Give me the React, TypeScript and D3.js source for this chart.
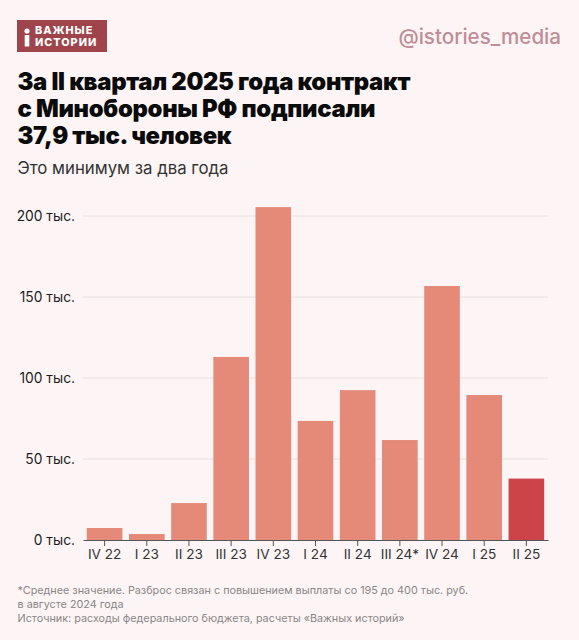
import { useRef, useEffect } from 'react';
import * as d3 from 'd3';

const QUARTERS = ['IV 22', 'I 23', 'II 23', 'III 23', 'IV 23', 'I 24', 'II 24', 'III 24*', 'IV 24', 'I 25', 'II 25'];
const SIGNED = [7.4, 3.7, 22.8, 113, 205.5, 73.5, 92.5, 61.7, 156.8, 89.5, 37.9];
const Y_TICKS = [0, 50, 100, 150, 200];
const LOGO_LINES = ['ВАЖНЫЕ', 'ИСТОРИИ'];
const TITLE_LINES = ['За II квартал 2025 года контракт', 'с Минобороны РФ подписали', '37,9 тыс. человек'];
const SUBTITLE = 'Это минимум за два года';
const NOTE_LINES = [
  '*Среднее значение. Разброс связан с повышением выплаты со 195 до 400 тыс. руб.',
  'в августе 2024 года',
  'Источник: расходы федерального бюджета, расчеты «Важных историй»',
];

const FONT = 'Inter, sans-serif';

export default function App() {
  const svgRef = useRef<SVGSVGElement>(null);

  useEffect(() => {
    if (!svgRef.current) return;
    document.body.style.margin = '0';

    const svg = d3.select(svgRef.current);
    svg.selectAll('*').remove();
    svg.attr('width', 579).attr('height', 640).style('display', 'block').style('font-family', FONT);

    svg.append('rect').attr('width', 579).attr('height', 640).attr('fill', '#fdf5f5');

    // Logo
    const logo = svg.append('g').attr('transform', 'translate(17,20)');
    logo.append('rect').attr('width', 90).attr('height', 32).attr('fill', '#a0444c');
    logo.append('circle').attr('cx', 10).attr('cy', 11).attr('r', 2.6).attr('fill', '#fff');
    logo.append('rect').attr('x', 7.7).attr('y', 15).attr('width', 4.6).attr('height', 11.5).attr('fill', '#fff');
    LOGO_LINES.forEach((t, i) => {
      logo.append('text')
        .attr('x', 18)
        .attr('y', 14 + i * 12)
        .attr('fill', '#fff')
        .attr('font-size', 10.8)
        .attr('font-weight', 800)
        .attr('letter-spacing', 1)
        .text(t);
    });

    svg.append('text')
      .attr('x', 561)
      .attr('y', 44)
      .attr('text-anchor', 'end')
      .attr('fill', '#c08d97')
      .attr('font-size', 20.6)
      .attr('font-weight', 500)
      .text('@istories_media');

    // Headings
    TITLE_LINES.forEach((t, i) => {
      svg.append('text')
        .attr('x', 17.5)
        .attr('y', 90 + i * 27)
        .attr('fill', '#0b0b0b')
        .attr('font-size', 23.8)
        .attr('font-weight', 900)
        .attr('letter-spacing', -0.3)
        .text(t);
    });
    svg.append('text')
      .attr('x', 17.5)
      .attr('y', 174)
      .attr('fill', '#333')
      .attr('font-size', 16.8)
      .text(SUBTITLE);

    const x = d3.scaleBand<string>().domain(QUARTERS).range([83, 548]).paddingInner(0.155).paddingOuter(0.09);
    const y = d3.scaleLinear().domain([0, 200]).range([540, 216]);

    // Grid
    svg.append('g')
      .selectAll('line')
      .data(Y_TICKS.filter((d) => d > 0))
      .join('line')
      .attr('x1', 83)
      .attr('x2', 548)
      .attr('y1', (d) => y(d))
      .attr('y2', (d) => y(d))
      .attr('stroke', '#e8dfdf');

    // Bars
    svg.append('g')
      .selectAll('rect')
      .data(SIGNED)
      .join('rect')
      .attr('x', (_d, i) => x(QUARTERS[i]) as number)
      .attr('y', (d) => y(d))
      .attr('width', x.bandwidth())
      .attr('height', (d) => y(0) - y(d))
      .attr('fill', (_d, i) => (i === SIGNED.length - 1 ? '#cc4348' : '#e58a78'));

    // Axes
    const yAxisG = svg.append('g')
      .attr('transform', 'translate(83,0)')
      .call(d3.axisLeft(y).tickValues(Y_TICKS).tickSize(0).tickPadding(8).tickFormat((d) => `${d} тыс.`));
    yAxisG.select('.domain').remove();
    yAxisG.selectAll('text').attr('fill', '#1c1c1c').attr('font-size', 13.8).attr('font-family', FONT);

    const xAxisG = svg.append('g')
      .attr('transform', 'translate(0,540)')
      .call(d3.axisBottom(x).tickSize(6).tickSizeOuter(0).tickPadding(3.5));
    xAxisG.selectAll('text').attr('fill', '#333').attr('font-size', 13.6).attr('font-family', FONT);
    xAxisG.selectAll('.domain, .tick line').attr('stroke', '#555').attr('stroke-width', 1);

    // Notes
    NOTE_LINES.forEach((t, i) => {
      svg.append('text')
        .attr('x', 17.5)
        .attr('y', 593.5 + i * 14.2)
        .attr('fill', '#8b8686')
        .attr('font-size', 10.8)
        .text(t);
    });
  }, []);

  return <svg ref={svgRef} />;
}
